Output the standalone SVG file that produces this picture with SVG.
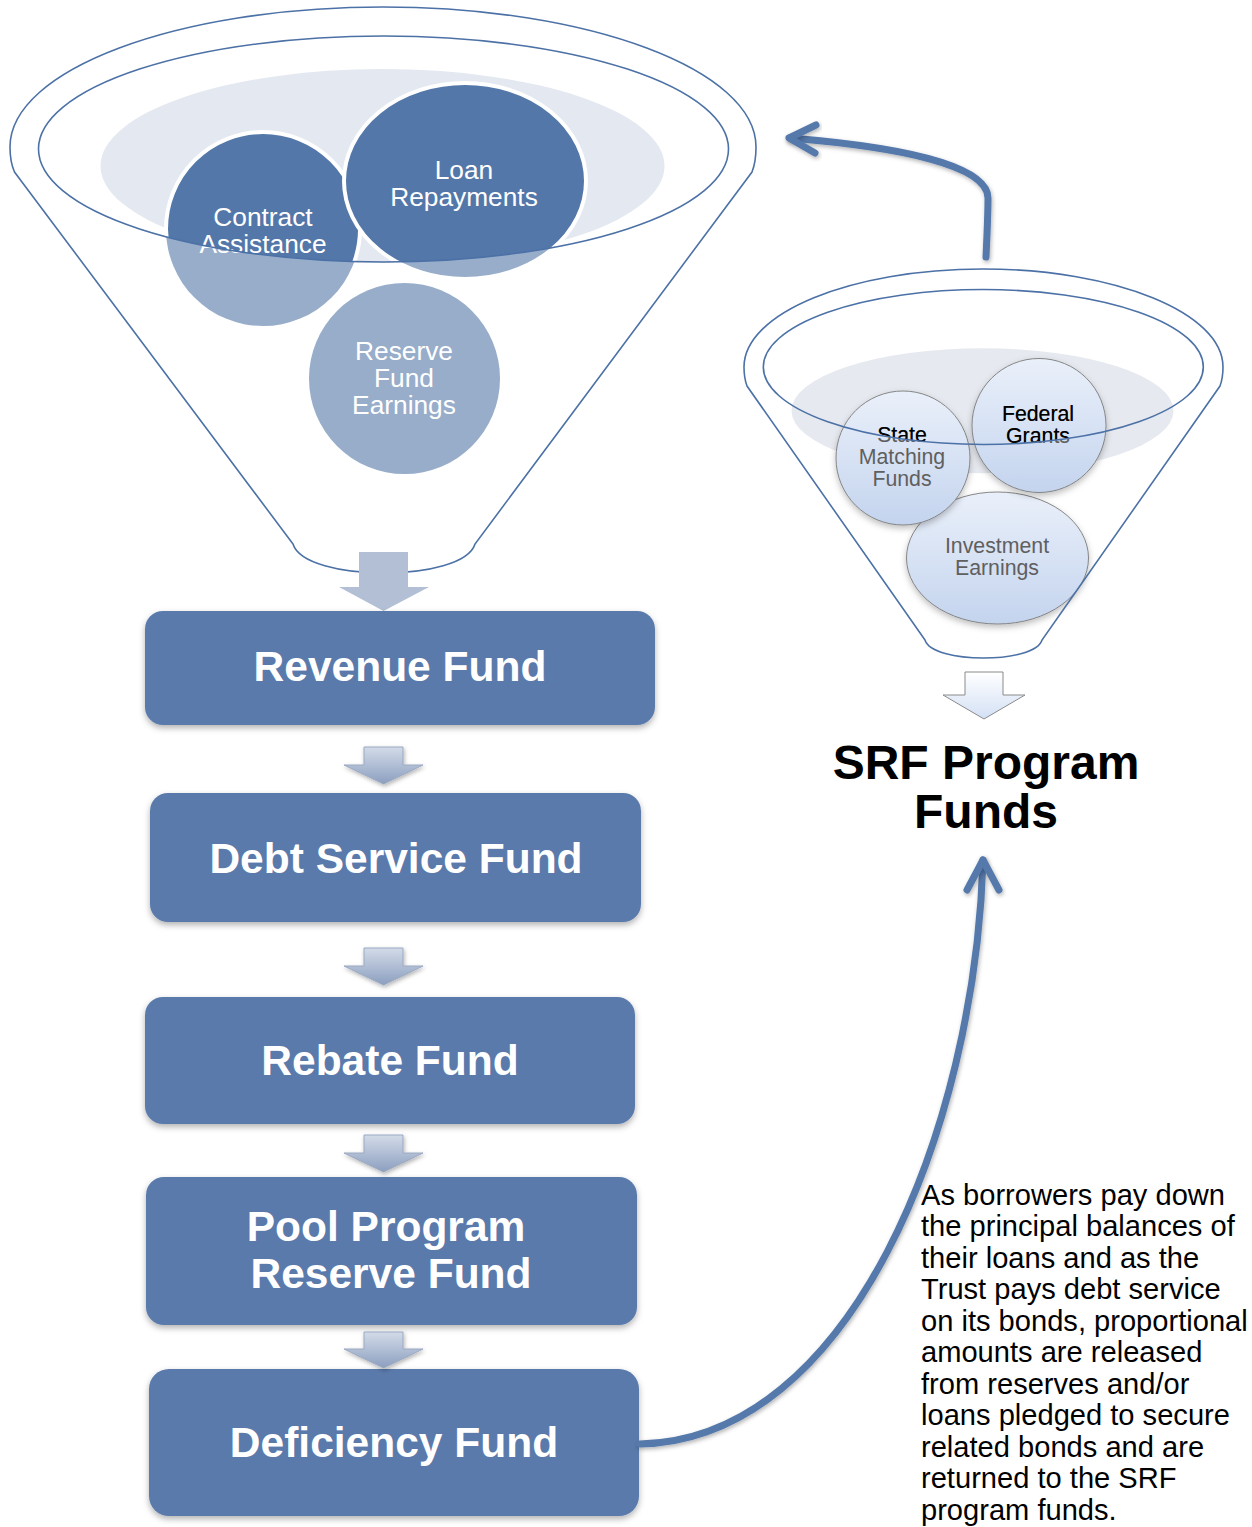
<svg xmlns="http://www.w3.org/2000/svg" width="1252" height="1527" viewBox="0 0 1252 1527">
  <defs>
    <style>
      .funnel{fill:none;stroke:#4c71a6;stroke-width:1.6}
      .box{fill:#5a7aab;filter:url(#sh)}
      .boxt{font-family:"Liberation Sans",Arial,sans-serif;font-weight:bold;font-size:42.5px;fill:#fff;text-anchor:middle}
      .lt{font-family:"Liberation Sans",Arial,sans-serif;font-size:26.3px;fill:#fff;text-anchor:middle}
      .rt{font-family:"Liberation Sans",Arial,sans-serif;font-size:21.3px;text-anchor:middle}
      .light{fill:#97adca}
      .dark{fill:#5377a9}
      .ring{fill:none;stroke:#fff;stroke-width:4}
      .rc{fill:url(#rg);stroke:#7a7a7a;stroke-width:0.9;filter:url(#csh)}
      .small{fill:url(#ag);stroke:#9aa9c2;stroke-width:1;filter:url(#ash)}
      .conn{fill:none;stroke:#5479ab;stroke-width:7;stroke-linecap:round;stroke-linejoin:round;filter:url(#ash)}
      .note{font-family:"Liberation Sans",Arial,sans-serif;font-size:29.1px;fill:#000}
      .srf{font-family:"Liberation Sans",Arial,sans-serif;font-weight:bold;font-size:48px;fill:#000;text-anchor:middle}
    </style>
    <clipPath id="inL"><ellipse cx="383.5" cy="149" rx="345" ry="113"/></clipPath>
    <clipPath id="inR"><ellipse cx="983.3" cy="367" rx="220" ry="77.5"/></clipPath>
    <linearGradient id="rg" x1="0" y1="0" x2="0" y2="1">
      <stop offset="0" stop-color="#eaf0fa"/>
      <stop offset="1" stop-color="#c4d4ee"/>
    </linearGradient>
    <linearGradient id="ag" x1="0" y1="0" x2="0" y2="1">
      <stop offset="0" stop-color="#d3dbe8"/>
      <stop offset="1" stop-color="#8c9fc0"/>
    </linearGradient>
    <linearGradient id="wg" x1="0" y1="0" x2="0" y2="1">
      <stop offset="0" stop-color="#ffffff"/>
      <stop offset="1" stop-color="#d3e0f5"/>
    </linearGradient>
    <filter id="sh" x="-10%" y="-10%" width="120%" height="130%">
      <feDropShadow dx="0" dy="3" stdDeviation="3" flood-color="#000" flood-opacity="0.3"/>
    </filter>
    <filter id="csh" x="-20%" y="-20%" width="140%" height="150%">
      <feDropShadow dx="0" dy="3" stdDeviation="3" flood-color="#000" flood-opacity="0.25"/>
    </filter>
    <filter id="ash" x="-20%" y="-20%" width="140%" height="150%">
      <feDropShadow dx="1" dy="2" stdDeviation="2" flood-color="#000" flood-opacity="0.3"/>
    </filter>
  </defs>

  <!-- Left funnel -->
  <g id="left-funnel">
    <ellipse cx="382.5" cy="166" rx="282" ry="97" fill="#e4e8f0"/>
  </g>
  <g id="contract-assistance">
    <ellipse class="light" cx="263" cy="229" rx="97" ry="97"/>
    <ellipse class="dark" cx="263" cy="229" rx="97" ry="97" clip-path="url(#inL)"/>
    <ellipse class="ring" cx="263" cy="229" rx="97" ry="97" clip-path="url(#inL)"/>
    <text class="lt" x="263" y="226">Contract</text>
    <text class="lt" x="263" y="253">Assistance</text>
  </g>
  <g id="loan-repayments">
    <ellipse class="light" cx="465" cy="181" rx="121" ry="98"/>
    <ellipse class="dark" cx="465" cy="181" rx="121" ry="98" clip-path="url(#inL)"/>
    <ellipse class="ring" cx="465" cy="181" rx="121" ry="98"/>
    <text class="lt" x="464" y="179">Loan</text>
    <text class="lt" x="464" y="206">Repayments</text>
  </g>
  <g id="reserve-fund-earnings">
    <ellipse class="light" cx="404.5" cy="378.5" rx="95.5" ry="95.5"/>
    <text class="lt" x="404" y="360">Reserve</text>
    <text class="lt" x="404" y="387">Fund</text>
    <text class="lt" x="404" y="414">Earnings</text>
  </g>
  <g id="left-funnel-outline">
    <ellipse class="funnel" cx="383.5" cy="149" rx="345" ry="113"/>
    <path class="funnel" d="M293,544 L14.5,172 Q10,162 10,147 C10,69.7 177,7 383,7 C589,7 756,69.7 756,147 Q756,162 752,172 L475,544 C463,582.7 305,582.7 293,544 Z"/>
  </g>

  <!-- Right funnel -->
  <g id="right-funnel">
    <ellipse cx="982.5" cy="410.7" rx="191" ry="62.5" fill="#e6e9ef"/>
  </g>
  <g id="investment-earnings">
    <ellipse class="rc" cx="997.5" cy="558" rx="91" ry="66"/>
    <g fill="#5f5f5f">
      <text class="rt" x="997" y="553">Investment</text>
      <text class="rt" x="997" y="575">Earnings</text>
    </g>
  </g>
  <g id="state-matching-funds">
    <ellipse class="rc" cx="903" cy="458" rx="67" ry="67"/>
    <g fill="#5f5f5f">
      <text class="rt" x="902" y="441.5">State</text>
      <text class="rt" x="902" y="463.5">Matching</text>
      <text class="rt" x="902" y="486">Funds</text>
    </g>
    <g fill="#000" clip-path="url(#inR)">
      <text class="rt" x="902" y="441.5">State</text>
      <text class="rt" x="902" y="463.5">Matching</text>
    </g>
  </g>
  <g id="federal-grants">
    <ellipse class="rc" cx="1039" cy="425.5" rx="67" ry="67"/>
    <g fill="#5f5f5f">
      <text class="rt" x="1038" y="420.5">Federal</text>
      <text class="rt" x="1038" y="442.5">Grants</text>
    </g>
    <g fill="#000" clip-path="url(#inR)">
      <text class="rt" x="1038" y="420.5">Federal</text>
      <text class="rt" x="1038" y="442.5">Grants</text>
    </g>
  </g>
  <g id="right-funnel-outline">
    <ellipse class="funnel" cx="983.3" cy="367" rx="220" ry="77.5"/>
    <path class="funnel" d="M925,640 L747,386 Q744,378 744,367 C744,312.9 850.7,269 983,269 C1115.3,269 1223,312.9 1223,367 Q1223,378 1220,386 L1042,640 C1035,664 932,664 925,640 Z"/>
  </g>

  <!-- Funnel output arrows -->
  <g id="left-funnel-arrow">
    <polygon points="359,552 408,552 408,587 429,587 383.5,611 339,587 359,587" fill="#b3bfd4"/>
  </g>
  <g id="right-funnel-arrow">
    <polygon points="965,672 1003,672 1003,695 1025,695 984,719 943,695 965,695" fill="url(#wg)" stroke="#8a8a8a" stroke-width="1"/>
  </g>

  <!-- SRF label -->
  <g id="srf-program-funds">
    <text class="srf" x="986" y="779">SRF Program</text>
    <text class="srf" x="986" y="828">Funds</text>
  </g>

  <!-- Fund boxes -->
  <g id="revenue-fund">
    <rect class="box" x="145" y="611" width="510" height="114" rx="18"/>
    <text class="boxt" x="400" y="681">Revenue Fund</text>
  </g>
  <g id="debt-service-fund">
    <rect class="box" x="150" y="793" width="491" height="129" rx="18"/>
    <text class="boxt" x="396" y="872.5">Debt Service Fund</text>
  </g>
  <g id="rebate-fund">
    <rect class="box" x="145" y="997" width="490" height="127" rx="18"/>
    <text class="boxt" x="390" y="1075">Rebate Fund</text>
  </g>
  <g id="pool-program-reserve-fund">
    <rect class="box" x="146" y="1177" width="491" height="148" rx="18"/>
    <text class="boxt" x="386" y="1241">Pool Program</text>
    <text class="boxt" x="391" y="1288">Reserve Fund</text>
  </g>
  <g id="deficiency-fund">
    <rect class="box" x="149" y="1369" width="490" height="147" rx="20"/>
    <text class="boxt" x="394" y="1457">Deficiency Fund</text>
  </g>

  <!-- Connectors -->
  <g id="connectors">
    <polygon class="small" points="364,747 403,747 403,765 423,765 383.5,784 344,765 364,765"/>
    <polygon class="small" points="364,948 403,948 403,966 423,966 383.5,985 344,966 364,966"/>
    <polygon class="small" points="364,1135 403,1135 403,1153 423,1153 383.5,1172 344,1153 364,1153"/>
    <polygon class="small" points="364,1332 403,1332 403,1349 423,1349 383.5,1368 344,1349 364,1349"/>
    <path class="conn" d="M986,257 C987,235 988,215 988,198 C988,165 900,147 790,138"/>
    <path class="conn" d="M816,125 L789,138 L815,153"/>
    <path class="conn" d="M640,1444 C850,1440 975,1130 983,860"/>
    <path class="conn" d="M967,890 L983,860 L999,890"/>
  </g>

  <!-- Note -->
  <g id="note">
    <text class="note" x="921" y="1204.5">As borrowers pay down</text>
    <text class="note" x="921" y="1236">the principal balances of</text>
    <text class="note" x="921" y="1267.5">their loans and as the</text>
    <text class="note" x="921" y="1299">Trust pays debt service</text>
    <text class="note" x="921" y="1330.5">on its bonds, proportional</text>
    <text class="note" x="921" y="1362">amounts are released</text>
    <text class="note" x="921" y="1393.5">from reserves and/or</text>
    <text class="note" x="921" y="1425">loans pledged to secure</text>
    <text class="note" x="921" y="1456.5">related bonds and are</text>
    <text class="note" x="921" y="1488">returned to the SRF</text>
    <text class="note" x="921" y="1519.5">program funds.</text>
  </g>
</svg>
